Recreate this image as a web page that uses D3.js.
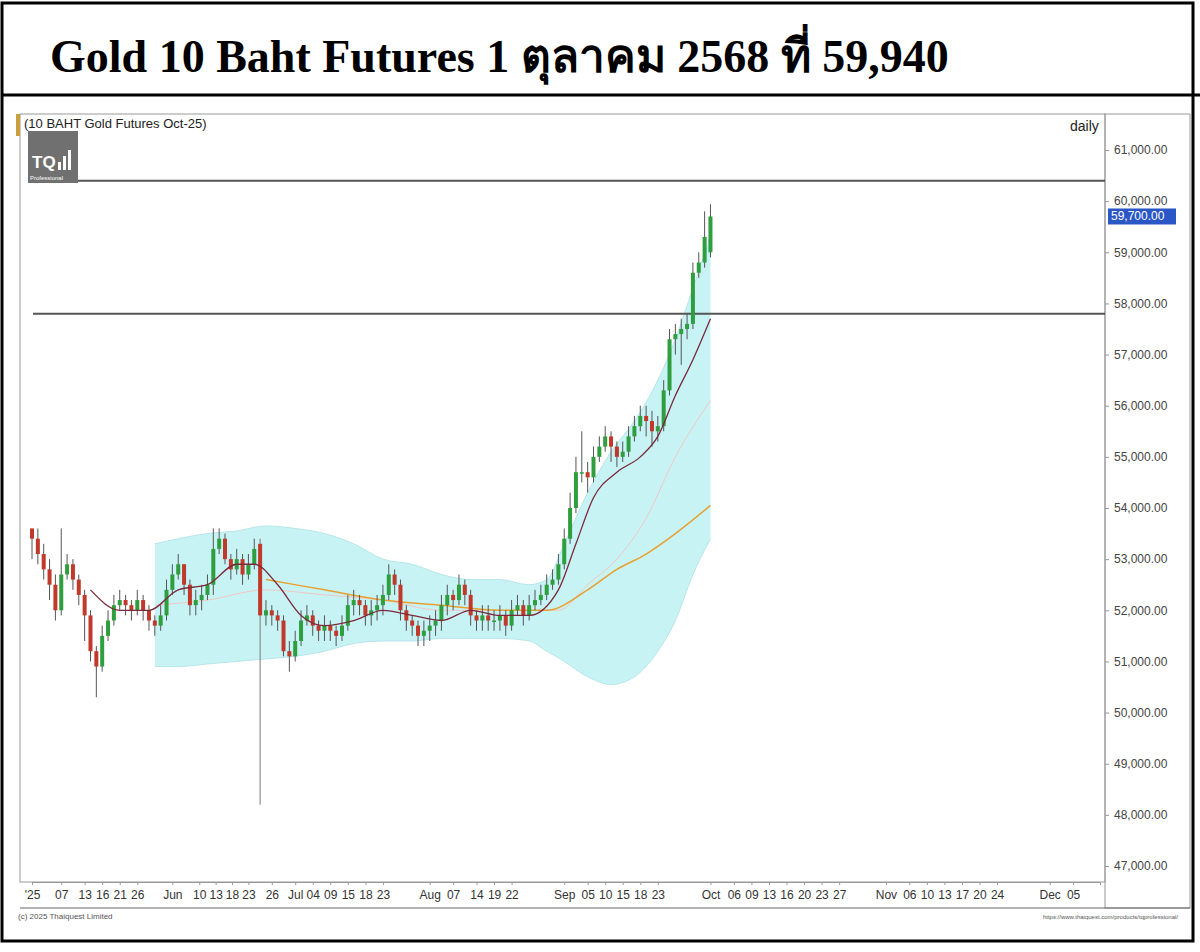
<!DOCTYPE html>
<html><head><meta charset="utf-8">
<script src="https://cdn.jsdelivr.net/npm/d3@7"></script>
<style>body{margin:0;background:#fff}svg{display:block}</style>
</head><body>
<svg id="chart" width="1200" height="952"></svg>
<script>
// daily candles, index 0 = first bar (late April '25)
var closes = [53400,53100,52800,52500,52000,52700,52900,52600,52300,51900,
	51200,50900,51500,51800,52100,52200,52100,52000,52200,52000,
	51800,51700,51900,52400,52700,52900,52500,52100,52200,52300,
	52500,53200,53400,53000,52800,53000,52700,52900,53200,51900,
	52000,51900,51800,51200,51100,51400,51800,51900,51700,51600,
	51700,51600,51500,51700,52100,52200,52100,51900,52000,52100,
	52300,52700,52500,52000,51800,51700,51500,51600,51700,51800,
	52100,52300,52200,52500,52300,51900,51800,51900,51800,51800,
	51900,51700,52000,52100,51900,52100,52200,52300,52500,52600,
	52900,53400,54000,54700,54700,54600,55000,55200,55400,55200,
	55000,55100,55400,55600,55800,55700,55500,55600,56300,57300,
	57400,57500,57600,58600,58800,59300,59700];
var opens = [53600,53400,53100,52800,52500,52000,52700,52900,52600,52300,
	51900,51200,50900,51500,51800,52100,52200,52100,52000,52200,
	52000,51800,51700,51900,52400,52700,52900,52500,52100,52200,
	52300,52500,53200,53400,53000,52800,53000,52700,52900,53300,
	51900,52000,51900,51800,51200,51100,51400,51800,51900,51700,
	51600,51700,51600,51500,51700,52100,52200,52100,51900,52000,
	52100,52300,52700,52500,52000,51800,51700,51500,51600,51700,
	51800,52100,52300,52200,52500,52300,51900,51800,51900,51800,
	51800,51900,51700,52000,52100,51900,52100,52200,52300,52500,
	52600,52900,53400,54000,54700,54700,54600,55000,55200,55400,
	55200,55000,55100,55400,55600,55800,55700,55500,55600,56300,
	57300,57400,57500,57600,58600,58800,59000];
var highs = [53600,53600,53300,53000,52700,53600,53100,53000,52700,52400,
	52000,51300,51700,52000,52300,52400,52300,52200,52400,52300,
	52100,51900,52100,52600,52900,53100,52900,52600,52400,52500,
	52700,53600,53600,53500,53100,53200,53100,53100,53400,53400,
	52200,52100,52000,51900,51400,51600,52000,52100,52000,51800,
	51900,51800,51700,51900,52300,52400,52300,52200,52200,52300,
	52500,52900,52800,52600,52100,51900,51800,51800,51900,52000,
	52300,52500,52400,52700,52600,52400,52000,52100,52100,52000,
	52100,52000,52200,52300,52200,52300,52400,52500,52700,52800,
	53100,53600,54300,55000,55500,54900,55200,55400,55600,55500,
	55300,55300,55600,55800,56000,56000,55900,55800,56500,57500,
	57600,57700,57800,58800,59000,59800,59940];
var lows = [53000,52900,52600,52200,51800,51900,52600,52400,52100,51400,
	51000,50300,50800,51400,51700,52000,51900,51800,51900,51800,
	51600,51500,51600,51800,52300,52600,52300,51900,51900,52000,
	52200,52300,53100,52900,52600,52700,52500,52600,52800,48200,
	51700,51700,51600,51100,50800,51000,51300,51700,51500,51400,
	51400,51400,51300,51400,51600,51900,51900,51700,51700,51800,
	51900,52200,52300,51800,51600,51500,51300,51300,51400,51500,
	51600,51900,52000,52100,52100,51700,51600,51600,51600,51600,
	51600,51500,51600,51900,51700,51800,52000,52100,52200,52400,
	52500,52800,53300,53900,54500,54300,54500,54900,55100,54900,
	54800,54900,55000,55300,55500,55400,55200,55300,55500,56200,
	57000,56800,57300,57500,58500,58700,58900];

// indicator lines: [bar index, value]
var bandUpper = [[21,53300],[25,53400],[30,53500],[35,53550],[40,53650],[45,53600],[50,53500],[55,53300],[60,53000],[65,52900],[70,52700],[75,52600],[80,52600],[85,52500],[88,52600],[91,53300],[95,54300],[99,55100],[103,55700],[107,56500],[110,57300],[113,58300],[116,59300]];
var bandLower = [[21,50900],[25,50900],[30,50950],[35,51000],[40,51050],[45,51100],[50,51200],[55,51350],[60,51400],[65,51400],[70,51450],[75,51450],[80,51450],[85,51400],[88,51200],[91,51000],[95,50700],[99,50550],[103,50700],[107,51200],[110,51800],[113,52700],[116,53400]];
var bandMid = [[21,52100],[30,52200],[40,52400],[50,52300],[60,52200],[70,52000],[80,52000],[90,52000],[95,52500],[100,53000],[105,53800],[110,55000],[116,56100]];
var maFast = [[10,52400],[15,52000],[20,52000],[25,52400],[30,52500],[35,52900],[38,52900],[42,52500],[46,51900],[50,51700],[55,51800],[60,52000],[65,51900],[70,51800],[75,52000],[80,51900],[85,51900],[90,52400],[93,53300],[96,54200],[100,54700],[104,55000],[107,55400],[110,56200],[113,56900],[116,57700]];
var maSlow = [[40,52600],[50,52400],[60,52200],[70,52100],[80,52000],[88,52000],[95,52400],[100,52800],[105,53100],[110,53500],[116,54050]];
var hLines = [60400, 57800];
var yTicks = [47000,48000,49000,50000,51000,52000,53000,54000,55000,56000,57000,58000,59000,60000,61000];
var xTickIdx = [0,5,9,12,15,18,24,28.6,31.4,34.2,37,41,45,48,51,54,57,60,68,72,76,79,82,91,95,98,101,104,107,116,120,123,126,129,132,135,138,146,150,153,156,159,162,165,174,178];
var xTickLab = ["'25","07","13","16","21","26","Jun","10","13","18","23","26","Jul","04","09","15","18","23","Aug","07","14","19","22","Sep","05","10","15","18","23","Oct","06","09","13","16","20","23","27","Nov","06","10","13","17","20","24","Dec","05"];
var lastPrice = 59700;

var svg = d3.select('#chart');
var plot = {left: 20, right: 1105, top: 114, bottom: 882};

// frame
svg.append('rect').attr('x', 2).attr('y', 3).attr('width', 1191).attr('height', 938)
	.attr('fill', 'none').attr('stroke', '#000').attr('stroke-width', 3);
svg.append('line').attr('x1', 2).attr('x2', 1200).attr('y1', 95).attr('y2', 95)
	.attr('stroke', '#000').attr('stroke-width', 3);
svg.append('text').attr('x', 50).attr('y', 72)
	.attr('font-family', 'Liberation Serif, DejaVu Serif, serif').attr('font-weight', 'bold')
	.attr('font-size', '46px').text('Gold 10 Baht Futures 1 ตุลาคม 2568 ที่ 59,940');

// plot box
svg.append('rect').attr('x', plot.left).attr('y', plot.top)
	.attr('width', plot.right - plot.left).attr('height', plot.bottom - plot.top)
	.attr('fill', '#fff').attr('stroke', '#999');
svg.append('rect').attr('x', 16).attr('y', plot.top).attr('width', 4).attr('height', 22).attr('fill', '#c9a040');
svg.append('rect').attr('x', plot.right).attr('y', plot.top).attr('width', 85).attr('height', plot.bottom - plot.top + 26)
	.attr('fill', 'none').attr('stroke', '#999');

var x = d3.scaleLinear().domain([0, 182.6]).range([32, 1100]);
var y = d3.scaleLinear().domain([47000, 61000]).range([866, 150]);

// bollinger fill
var area = d3.area().x(function(d, i) { return x(d[0]); })
	.y0(function(d, i) { return y(bandLower[i][1]); })
	.y1(function(d) { return y(d[1]); })
	.curve(d3.curveMonotoneX);
svg.append('path').datum(bandUpper).attr('d', area).attr('fill', '#c8f3f5');
var line = d3.line().x(function(d) { return x(d[0]); }).y(function(d) { return y(d[1]); }).curve(d3.curveMonotoneX);
[bandUpper, bandLower].forEach(function(b) {
	svg.append('path').datum(b).attr('d', line).attr('fill', 'none').attr('stroke', '#b6e6ea').attr('stroke-width', 1);
});
svg.append('path').datum(bandMid).attr('d', line).attr('fill', 'none').attr('stroke', '#f0c8c0').attr('stroke-width', 1);
svg.append('path').datum(maSlow).attr('d', line).attr('fill', 'none').attr('stroke', '#e8a030').attr('stroke-width', 1.5);

// horizontal lines
hLines.forEach(function(v) {
	svg.append('line').attr('x1', 33).attr('x2', plot.right).attr('y1', y(v)).attr('y2', y(v))
		.attr('stroke', '#555').attr('stroke-width', 2);
});

// candles
var candles = svg.append('g');
closes.forEach(function(c, i) {
	var o = opens[i], up = c >= o;
	var col = up ? '#2e9e3e' : '#c0392b';
	candles.append('line').attr('x1', x(i)).attr('x2', x(i)).attr('y1', y(highs[i])).attr('y2', y(lows[i]))
		.attr('stroke', i === 39 ? '#777' : '#555').attr('stroke-width', 1);
	candles.append('rect').attr('x', x(i) - 2).attr('width', 4)
		.attr('y', y(Math.max(o, c))).attr('height', Math.max(1.5, Math.abs(y(o) - y(c))))
		.attr('fill', col);
});
svg.append('path').datum(maFast).attr('d', line).attr('fill', 'none').attr('stroke', '#7a2a3a').attr('stroke-width', 1.3);

// right axis
var yAxis = d3.axisRight(y).tickValues(yTicks).tickSize(4).tickFormat(d3.format(',.2f'));
var ya = svg.append('g').attr('transform', 'translate(' + plot.right + ',0)').call(yAxis);
ya.select('.domain').remove();
ya.selectAll('text').attr('font-family', 'Liberation Sans Narrow, Liberation Sans, sans-serif')
	.attr('font-size', '12px').attr('fill', '#444').attr('dx', 2);
ya.selectAll('line').attr('stroke', '#999');
svg.append('rect').attr('x', plot.right + 3).attr('y', y(lastPrice) - 8).attr('width', 68).attr('height', 16).attr('fill', '#2a56c6');
svg.append('text').attr('x', plot.right + 6).attr('y', y(lastPrice) + 4).attr('fill', '#fff')
	.attr('font-family', 'Liberation Sans Narrow, Liberation Sans, sans-serif').attr('font-size', '12px').text('59,700.00');

// bottom axis
var xAxis = d3.axisBottom(x).tickValues(xTickIdx).tickSize(3)
	.tickFormat(function(d, i) { return xTickLab[i]; });
var xa = svg.append('g').attr('transform', 'translate(0,' + plot.bottom + ')').call(xAxis);
xa.select('.domain').attr('stroke', '#999');
xa.selectAll('line').attr('stroke', '#999');
xa.selectAll('text').attr('font-family', 'Liberation Sans Narrow, Liberation Sans, sans-serif')
	.attr('font-size', '12px').attr('fill', '#333').attr('dy', '0.9em');
svg.append('line').attr('x1', plot.left).attr('x2', plot.right + 85).attr('y1', plot.bottom + 26).attr('y2', plot.bottom + 26).attr('stroke', '#666');

// header texts and logo
svg.append('text').attr('x', 24).attr('y', 128).attr('font-family', 'Liberation Sans Narrow, Liberation Sans, sans-serif')
	.attr('font-size', '13px').attr('fill', '#222').text('(10 BAHT Gold Futures Oct-25)');
svg.append('text').attr('x', 1070).attr('y', 131).attr('font-family', 'Liberation Sans Narrow, Liberation Sans, sans-serif')
	.attr('font-size', '14px').attr('fill', '#222').text('daily');
svg.append('rect').attr('x', 28).attr('y', 131).attr('width', 50).attr('height', 52).attr('fill', '#707070');
svg.append('text').attr('x', 32).attr('y', 168).attr('font-family', 'Liberation Sans, sans-serif').attr('font-weight', 'bold')
	.attr('font-size', '17px').attr('fill', '#fff').text('TQ');
[0, 1, 2].forEach(function(k) {
	svg.append('rect').attr('x', 58 + k * 5).attr('y', 162 - k * 6).attr('width', 3).attr('height', 8 + k * 6).attr('fill', '#fff');
});
svg.append('text').attr('x', 30).attr('y', 180).attr('font-family', 'Liberation Sans, sans-serif')
	.attr('font-size', '6px').attr('fill', '#fff').text('Professional');
svg.append('text').attr('x', 18).attr('y', 919).attr('font-family', 'Liberation Sans Narrow, Liberation Sans, sans-serif')
	.attr('font-size', '8px').attr('fill', '#555').text('(c) 2025 Thaiquest Limited');
svg.append('text').attr('x', 1178).attr('y', 919).attr('text-anchor', 'end').attr('font-family', 'Liberation Sans Narrow, Liberation Sans, sans-serif')
	.attr('font-size', '6px').attr('fill', '#555').text('https://www.thaiquest.com/products/tqprofessional/');
</script>
</body></html>
